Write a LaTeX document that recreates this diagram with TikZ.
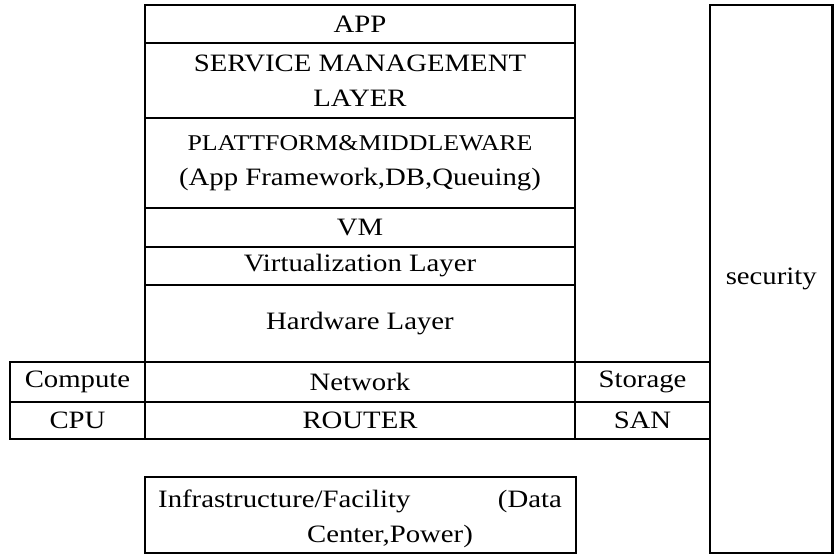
\documentclass[tikz,border=0pt]{standalone}
\usepackage{fontspec}
\setmainfont{Liberation Serif}[FakeStretch=1.15]
\usepackage{tikz}
\usetikzlibrary{positioning}

\begin{document}
\begin{tikzpicture}[x=1pt, y=-1pt,
  layer/.style={draw, line width=2.8pt, inner sep=0pt, outer sep=0pt,
    minimum width=430pt, align=center, font=\fontsize{25}{35}\selectfont},
  side/.style={layer, minimum width=135pt, minimum height=38.5pt},
  lbl/.style={inner sep=0pt, font=\fontsize{25}{35}\selectfont}]
  \useasboundingbox (0,0) rectangle (834,555);

  % Layer stack
  \node[layer, minimum height=38pt] (app) at (360,24) {APP};
  \node[layer, minimum height=75pt, below=0pt of app] (svc)
    {SERVICE MANAGEMENT\\LAYER};
  \node[layer, minimum height=90pt, below=0pt of svc] (plat)
    {{\fontsize{22.5}{33}\selectfont PLATTFORM\&MIDDLEWARE}\\(App Framework,DB,Queuing)};
  \node[layer, minimum height=39pt, below=0pt of plat] (vm) {VM};
  \node[layer, minimum height=38pt, below=0pt of vm] (virt) {Virtualization Layer};
  \node[layer, minimum height=77pt, below=0pt of virt] (hw) {Hardware Layer};
  \node[layer, minimum height=40pt, below=0pt of hw] (net) {Network};
  \node[layer, minimum height=37pt, below=0pt of net] (router) {ROUTER};

  % Compute and storage beside the network rows
  \node[side, minimum height=40pt, left=0pt of net] (compute) {Compute};
  \node[side, minimum height=37pt, left=0pt of router] (cpu) {CPU};
  \node[side, minimum height=40pt, right=0pt of net] (storage) {Storage};
  \node[side, minimum height=37pt, right=0pt of router] (san) {SAN};

  % Security column
  \node[layer, minimum width=122.5pt, minimum height=548pt] (sec) at (771.25,279)
    {security};

  % Facility box
  \node[layer, minimum width=431pt, minimum height=76pt] (infra) at (360.5,515) {};
  \node[lbl, anchor=base west] (infraA) at (158,507) {Infrastructure/Facility};
  \node[lbl, anchor=base east] (infraB) at (562,507) {(Data};
  \node[lbl, anchor=base] (infraC) at (390,542) {Center,Power)};
\end{tikzpicture}
\end{document}
